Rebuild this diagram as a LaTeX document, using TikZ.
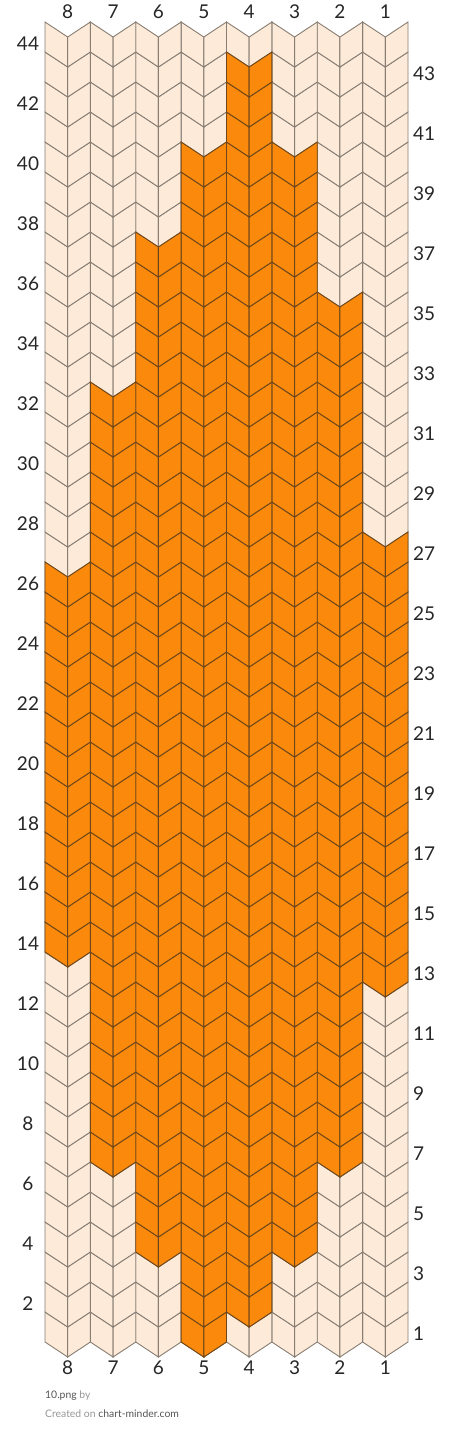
\documentclass[tikz,border=0pt]{standalone}
\usepackage{fontspec}
\setmainfont{Lato}
\usepackage{xcolor}
\definecolor{yarnlight}{RGB}{253,234,216}
\definecolor{yarnorange}{RGB}{250,137,12}
\definecolor{gridgray}{RGB}{135,125,115}
\definecolor{griddark}{RGB}{110,70,25}
\definecolor{footdark}{RGB}{85,85,85}
\definecolor{footlight}{RGB}{150,150,150}

\tikzset{
  lightstitch/.style={fill=yarnlight, draw=gridgray, line width=0.9pt, line join=miter},
  orangestitch/.style={fill=yarnorange, draw=griddark, line width=0.9pt, line join=miter},
  numlabel/.style={font=\fontsize{19}{19}\selectfont, text=black!85, inner sep=0pt},
  footlabel/.style={font=\fontsize{10.4}{10.4}\selectfont, inner sep=0pt, anchor=base west}
}

% one stitch: #1 style, #2 column, #3 row
\newcommand{\stitch}[3]{%
  \pgfmathsetmacro{\xl}{45+(8-#2)*45.375}
  \pgfmathsetmacro{\xm}{\xl+22.6875}
  \pgfmathsetmacro{\xr}{\xl+45.375}
  \pgfmathsetmacro{\yt}{22+(44-#3)*30}
  \draw[#1] (\xl,\yt) -- (\xm,\yt+15) -- (\xm,\yt+45) -- (\xl,\yt+30) -- cycle;
  \draw[#1] (\xm,\yt+15) -- (\xr,\yt) -- (\xr,\yt+30) -- (\xm,\yt+45) -- cycle;
}

\begin{document}
\begin{tikzpicture}[x=1pt, y=-1pt]
  \useasboundingbox (0,0) rectangle (453,1443);

  % background stitches
  \foreach \c in {1,...,8}
    \foreach \r in {1,...,44}
      {\stitch{lightstitch}{\c}{\r}}

  % orange motif: column / first row / last row
  \foreach \c/\rlo/\rhi in {1/13/27, 2/7/35, 3/4/40, 4/2/43, 5/1/40, 6/4/37, 7/7/32, 8/14/26}
    \foreach \r in {\rlo,...,\rhi}
      {\stitch{orangestitch}{\c}{\r}}

  % column numbers
  \foreach \c in {1,...,8}{
    \pgfmathsetmacro{\xc}{45+(8-\c)*45.375+22.6875}
    \node[numlabel] (top\c) at (\xc,12) {\c};
    \node[numlabel] (bot\c) at (\xc,1368) {\c};
  }

  % row numbers, even left and odd right
  \foreach \r in {2,4,...,44}{
    \pgfmathsetmacro{\yc}{22+(44-\r)*30+22}
    \node[numlabel] (rowl\r) at (28,\yc) {\r};
  }
  \foreach \r in {1,3,...,43}{
    \pgfmathsetmacro{\yc}{22+(44-\r)*30+22}
    \node[numlabel, anchor=west] (rowr\r) at (413,\yc) {\r};
  }

  % footer
  \node[footlabel] (fname) at (45,1398) {\textcolor{footdark}{10.png} \textcolor{footlight}{by}};
  \node[footlabel] (fsite) at (45,1417) {\textcolor{footlight}{Created on} \textcolor{footdark}{chart-minder.com}};
\end{tikzpicture}
\end{document}
